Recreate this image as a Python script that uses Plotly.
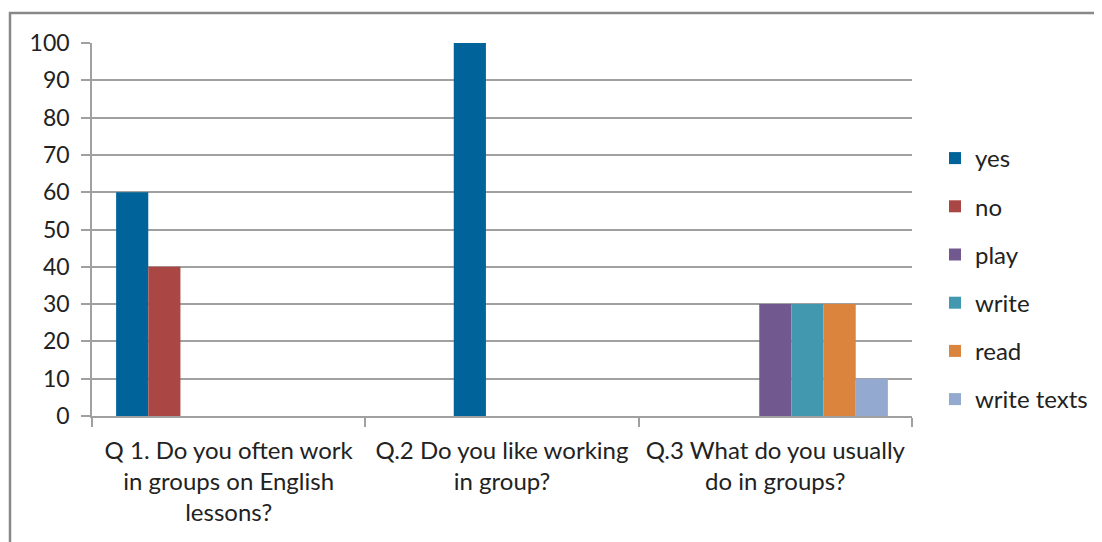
import plotly.graph_objects as go

categories = ["Q 1. Do you often work<br>in groups on English<br>lessons?",
              "Q.2 Do you like working<br>in group?",
              "Q.3 What do you usually<br>do in groups?"]
series_names = ["yes", "no", "yes", "play", "write", "read", "write texts"]
yes_q1 = [60, None, None]
no_q1 = [40, None, None]
yes_q2 = [None, 100, None]
play = [None, None, 30]
write = [None, None, 30]
read = [None, None, 30]
write_texts = [None, None, 10]
series_values = [yes_q1, no_q1, yes_q2, play, write, read, write_texts]
colors = ["#006399", "#AA4643", "#006399", "#71588F", "#4198AF", "#DB843D", "#93A9CF"]
show_legend = [True, True, False, True, True, True, True]

font = "Lato"
fig = go.Figure()
for name, vals, col, sl in zip(series_names, series_values, colors, show_legend):
    fig.add_trace(go.Bar(x=categories, y=vals, name=name, marker_color=col,
                         marker_line_width=0, showlegend=sl, legendgroup=name + col))

W, H = 1102, 542
OFF = 8  # page body margin
L, R, T, B = 92 - OFF, 912 - OFF, 43 - OFF, 416 - OFF
fig.update_layout(
    width=W, height=H,
    margin=dict(l=L, r=W - R, t=T, b=H - B),
    barmode="group", bargap=1.5 / 8.5, bargroupgap=0,
    plot_bgcolor="white", paper_bgcolor="white",
    font=dict(family=font, size=22, color="#222222"),
    legend=dict(x=(927 - L) / (R - L), xanchor="left", y=(B - 128) / (B - T), yanchor="top",
                tracegroupgap=14, font=dict(size=24), itemwidth=30, bgcolor="rgba(0,0,0,0)"),
    xaxis=dict(type="category", showline=True, linecolor="#A0A0A0", linewidth=1.5,
               ticks="outside", tickson="boundaries", ticklen=9, tickcolor="#A0A0A0",
               tickwidth=1.5, showgrid=False, tickfont=dict(size=24), ticklabelstandoff=12),
    yaxis=dict(range=[0, 100], dtick=10, showline=True, linecolor="#A0A0A0", linewidth=1.5,
               ticks="outside", ticklen=9, tickcolor="#A0A0A0", tickwidth=1.5,
               gridcolor="#A0A0A0", gridwidth=1.5, zeroline=False,
               ticklabelstandoff=7, tickfont=dict(size=23)),
    shapes=[dict(type="rect", xref="paper", yref="paper",
                 x0=(10 - OFF - L) / (R - L), x1=(1120 - L) / (R - L),
                 y0=(B - 560) / (B - T), y1=(B - (13 - OFF)) / (B - T),
                 line=dict(color="#888888", width=2.5), fillcolor="rgba(0,0,0,0)", layer="below")],
)
fig.write_html("out.html")
